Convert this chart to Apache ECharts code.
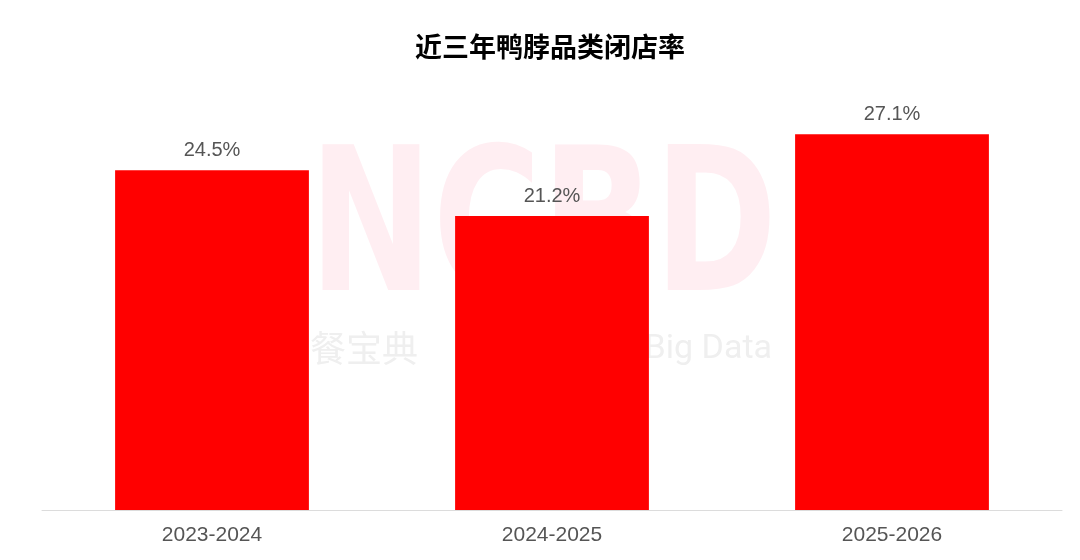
<!DOCTYPE html>
<html>
<head>
<meta charset="utf-8">
<script src="https://cdn.jsdelivr.net/npm/echarts@6/dist/echarts.min.js"></script>
<style>
  html, body { margin: 0; padding: 0; background: #fff; }
  #main { width: 1080px; height: 560px; }
</style>
</head>
<body>
<div id="main"></div>
<script>
// 近三年鸭脖品类闭店率
var years = ['2023-2024', '2024-2025', '2025-2026'];
var closeRate = [24.5, 21.2, 27.1];

var chart = echarts.init(document.getElementById('main'));
var font = '"Liberation Sans", Arial, sans-serif';

var option = {
  backgroundColor: '#fff',
  title: {
    text: '近三年鸭脖品类闭店率',
    left: 410,
    top: 28,
    textStyle: { fontSize: 27, fontWeight: 'bold', color: '#000', fontFamily: '"Noto Sans CJK SC", sans-serif' }
  },
  // watermark
  graphic: [
    {
      type: 'text', x: 309, y: 138, z: -10, silent: true, scaleX: 0.74,
      style: { text: 'NCBD', font: 'bold 200px "DejaVu Sans", sans-serif', fill: '#FFEEF2' }
    },
    {
      type: 'text', x: 310, y: 330, z: -10, silent: true,
      style: { text: '餐宝典', font: '36px "Noto Sans CJK SC", sans-serif', fill: '#EFEFEF' }
    },
    {
      type: 'text', x: 772, y: 332, z: -10, silent: true,
      style: { text: 'NCBD  Big Data', align: 'right', font: '34px Roboto, sans-serif', fill: '#EFEFEF' }
    }
  ],
  grid: { left: 42, right: 18, top: 94, bottom: 50 },
  xAxis: {
    type: 'category',
    data: years,
    axisTick: { show: false },
    axisLine: { lineStyle: { color: '#dcdcdc', width: 1 } },
    axisLabel: { color: '#555', fontSize: 21, margin: 15, fontFamily: font }
  },
  yAxis: {
    type: 'value',
    min: 0,
    max: 30,
    show: false,
    splitLine: { show: false }
  },
  series: [
    {
      name: '闭店率',
      type: 'bar',
      data: closeRate,
      barWidth: '57%',
      itemStyle: { color: '#FF0000' },
      label: {
        show: true,
        position: 'top',
        distance: 10,
        formatter: '{c}%',
        color: '#555',
        fontSize: 20,
        fontFamily: font
      }
    }
  ]
};

chart.setOption(option);
</script>
</body>
</html>
